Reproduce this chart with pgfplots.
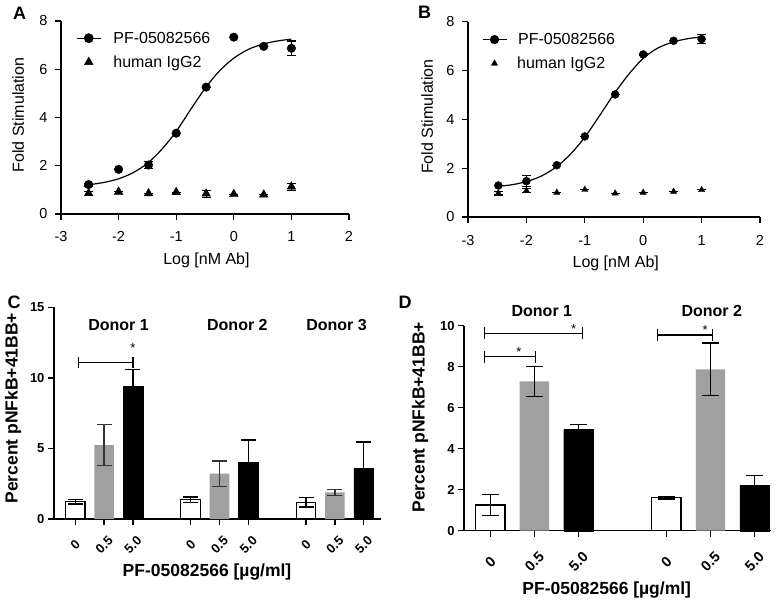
\documentclass[border=0pt]{standalone}
\usepackage{fontspec}
\setmainfont{Liberation Sans}
\usepackage{pgfplots}
\pgfplotsset{compat=1.18}
\definecolor{bargrey}{RGB}{160,160,160}
\newcommand{\fsz}[1]{\fontsize{#1bp}{#1bp}\selectfont}
\pgfplotsset{
  panel/.style={scale only axis, anchor=south west,
    axis x line*=bottom, axis y line*=left,
    axis line style={line width=1.3bp, black},
    tick style={line width=1.3bp, black},
    tick align=outside, major tick length=6bp, clip=false,
    /pgf/number format/assume math mode=true},
  curvepanel/.style={panel,
    xmin=-3, xmax=2, ymin=0, ymax=8,
    xtick={-3,-2,-1,0,1,2}, xticklabels={-3,-2,-1,0,1,2},
    ytick={0,2,4,6,8}, yticklabels={0,2,4,6,8},
    ticklabel style={font=\fsz{14.5}},
    xticklabel style={yshift=-8bp},
    yticklabel style={xshift=-4bp},
    label style={font=\fsz{16}},
    legend style={draw=none, fill=none, inner sep=0pt, font=\fsz{16},
      row sep=7bp, anchor=north west},
    legend cell align=left,
    legend image code/.code={\draw[mark repeat=2,mark phase=2,##1] plot coordinates {(0bp,0bp) (12bp,0bp) (24bp,0bp)};}},
  barpanel/.style={panel,
    ymin=0, ticklabel style={font=\bfseries\fsz{13}},
    xticklabel style={yshift=#1, rotate=45, anchor=center},
    label style={font=\bfseries\fsz{17.5}}},
  ptserr/.style={error bars/.cd, y dir=both, y explicit,
    error bar style={line width=1.2bp, black},
    error mark options={rotate=90, mark size=4.5bp, line width=1.2bp, black}},
}
\begin{document}
\begin{tikzpicture}
\path[use as bounding box] (0,0) rectangle (777bp,600bp);
% ---------------- Panel A
\begin{axis}[curvepanel, at={(61bp,386bp)}, width=288bp, height=193bp,
  xlabel={Log [nM Ab]}, ylabel={Fold Stimulation},
  xlabel style={at={(axis description cs:0.505,-0.238)}, anchor=center},
  ylabel style={at={(axis description cs:-0.149,0.513)}, anchor=center},
  legend style={at={(axis description cs:0.052,0.955)}}]
\addlegendimage{black, line width=1.2bp, mark=*, mark size=4.3bp}
\addlegendentry{\hspace{10bp}PF-05082566}
\addlegendimage{black, only marks, mark=triangle*, mark size=5bp}
\addlegendentry{\hspace{10bp}human IgG2}
\addplot[black, line width=1.2bp, smooth, forget plot] coordinates {
(-2.52,1.21) (-2.25,1.31) (-2,1.46) (-1.75,1.71) (-1.5,2.1) (-1.25,2.68)
(-1,3.42) (-0.75,4.33) (-0.5,5.2) (-0.25,5.93) (0,6.46) (0.25,6.82)
(0.5,7.04) (0.75,7.17) (1,7.25)};
\addplot[black, only marks, mark=*, mark size=4.3bp, forget plot, ptserr] coordinates {
(-2.52,1.22) +- (0,0.06) (-2,1.85) +- (0,0) (-1.48,2.03) +- (0,0.13)
(-1,3.35) +- (0,0) (-0.48,5.26) +- (0,0) (0,7.33) +- (0,0)
(0.52,6.95) +- (0,0) (1,6.87) +- (0,0.3)};
\addplot[black, only marks, mark=triangle*, mark size=5bp, forget plot, ptserr] coordinates {
(-2.52,0.86) +- (0,0.08) (-2,0.92) +- (0,0) (-1.48,0.85) +- (0,0)
(-1,0.9) +- (0,0) (-0.48,0.84) +- (0,0.15) (0,0.82) +- (0,0)
(0.52,0.8) +- (0,0) (1,1.13) +- (0,0.15)};
\end{axis}
% ---------------- Panel B
\begin{axis}[curvepanel, at={(468bp,383bp)}, width=292bp, height=195.3bp,
  xlabel={Log [nM Ab]}, ylabel={Fold Stimulation},
  xticklabel style={yshift=-1bp},
  xlabel style={at={(axis description cs:0.506,-0.236)}, anchor=center},
  ylabel style={at={(axis description cs:-0.14,0.514)}, anchor=center},
  legend style={at={(axis description cs:0.047,0.952)}}]
\addlegendimage{black, line width=1.2bp, mark=*, mark size=4bp}
\addlegendentry{\hspace{9bp}PF-05082566}
\addlegendimage{black, only marks, mark=triangle*, mark size=3.6bp}
\addlegendentry{\hspace{8bp}human IgG2}
\addplot[black, line width=1.2bp, smooth, forget plot] coordinates {
(-2.48,1.26) (-2.25,1.32) (-2,1.45) (-1.75,1.67) (-1.5,2.03) (-1.25,2.56)
(-1,3.27) (-0.75,4.14) (-0.5,5.04) (-0.25,5.84) (0,6.5) (0.25,6.92)
(0.5,7.16) (0.75,7.3) (1,7.38)};
\addplot[black, only marks, mark=*, mark size=4bp, forget plot, ptserr] coordinates {
(-2.48,1.29) +- (0,0) (-2,1.47) +- (0,0.22) (-1.48,2.12) +- (0,0)
(-1,3.3) +- (0,0) (-0.48,5.02) +- (0,0) (0,6.66) +- (0,0.05)
(0.52,7.22) +- (0,0) (1,7.29) +- (0,0.18)};
\addplot[black, only marks, mark=triangle*, mark size=3.6bp, forget plot, ptserr] coordinates {
(-2.48,0.98) +- (0,0.08) (-2,1.08) +- (0,0.08) (-1.48,1.0) +- (0,0)
(-1,1.12) +- (0,0) (-0.48,0.97) +- (0,0) (0,1.0) +- (0,0)
(0.52,1.04) +- (0,0) (1,1.11) +- (0,0)};
\end{axis}
% ---------------- Panel C
\begin{axis}[barpanel=-20bp, at={(54bp,81bp)}, width=327bp, height=211.7bp,
  xmin=-0.738, xmax=10.6, ymax=15,
  xtick={0,1,2,4,5,6,8,9,10},
  xticklabels={0,0.5,5.0,0,0.5,5.0,0,0.5,5.0},
  ytick={0,5,10,15}, yticklabels={0,5,10,15},
  xlabel={PF-05082566 [µg/ml]}, ylabel={Percent pNFkB+41BB+},
  xlabel style={at={(axis description cs:0.468,-0.249)}, anchor=center},
  ylabel style={at={(axis description cs:-0.125,0.523)}, anchor=center}]
\addplot[ybar, bar width=0.68, bar shift=0pt, fill=white, draw=black, line width=1.3bp,
  error bars/.cd, y dir=both, y explicit, error bar style={line width=1.3bp, black},
  error mark options={rotate=90, mark size=7.5bp, line width=1.3bp, black}]
  coordinates {(0,1.23) +- (0,0.17) (4,1.37) +- (0,0.19) (8,1.18) +- (0,0.32)};
\addplot[ybar, bar width=0.68, bar shift=0pt, fill=bargrey, draw=none,
  error bars/.cd, y dir=both, y explicit, error bar style={line width=1.3bp, black!80},
  error mark options={rotate=90, mark size=7.5bp, line width=1.3bp, black!80}]
  coordinates {(1,5.24) +- (0,1.46) (5,3.22) +- (0,0.9) (9,1.88) +- (0,0.2)};
\addplot[ybar, bar width=0.68, bar shift=0pt, fill=black, draw=black,
  error bars/.cd, y dir=both, y explicit, error bar style={line width=1.3bp, black},
  error mark options={rotate=90, mark size=7.5bp, line width=1.3bp, black}]
  coordinates {(2,9.38) +- (0,1.2) (6,4.02) +- (0,1.58) (10,3.61) +- (0,1.85)};
\draw[line width=1.2bp] (axis cs:0.1,11.1) -- (axis cs:2,11.1);
\draw[line width=1.2bp] (axis cs:0.1,11.1) ++(0pt,-5.5pt) -- ++(0pt,11pt);
\draw[line width=1.2bp] (axis cs:2,11.1) ++(0pt,-5.5pt) -- ++(0pt,11pt);
\node[font=\fsz{13}] at (axis cs:2,12.1) {*};
\node[font=\bfseries\fsz{16}] at (axis cs:1.5,13.75) {Donor 1};
\node[font=\bfseries\fsz{16}] at (axis cs:5.62,13.75) {Donor 2};
\node[font=\bfseries\fsz{16}] at (axis cs:9.06,13.75) {Donor 3};
\end{axis}
% ---------------- Panel D
\begin{axis}[barpanel=-25bp, at={(464bp,69.3bp)}, width=307bp, height=205bp,
  xmin=-0.598, xmax=6.375, ymax=10,
  xtick={0,1,2,4,5,6},
  xticklabels={0,0.5,5.0,0,0.5,5.0},
  ytick={0,2,4,6,8,10}, yticklabels={0,2,4,6,8,10},
  xticklabel style={font=\bfseries\fsz{14.5}},
  xlabel={PF-05082566 [µg/ml]}, ylabel={Percent pNFkB+41BB+},
  xlabel style={at={(axis description cs:0.465,-0.289)}, anchor=center},
  ylabel style={at={(axis description cs:-0.143,0.553)}, anchor=center}]
\addplot[ybar, bar width=0.667, bar shift=0pt, fill=white, draw=black, line width=1.3bp,
  error bars/.cd, y dir=both, y explicit, error bar style={line width=1.3bp, black},
  error mark options={rotate=90, mark size=8.5bp, line width=1.3bp, black}]
  coordinates {(0,1.25) +- (0,0.52) (4,1.61) +- (0,0.06)};
\addplot[ybar, bar width=0.667, bar shift=0pt, fill=bargrey, draw=none,
  error bars/.cd, y dir=both, y explicit, error bar style={line width=1.3bp, black},
  error mark options={rotate=90, mark size=8.5bp, line width=1.3bp, black}]
  coordinates {(1,7.29) +- (0,0.73) (5,7.87) +- (0,1.28)};
\addplot[ybar, bar width=0.667, bar shift=0pt, fill=black, draw=black,
  error bars/.cd, y dir=both, y explicit, error bar style={line width=1.3bp, black},
  error mark options={rotate=90, mark size=8.5bp, line width=1.3bp, black}]
  coordinates {(2,4.93) +- (0,0.24) (6,2.21) +- (0,0.47)};
\draw[line width=1.2bp] (axis cs:-0.14,9.63) -- (axis cs:2.09,9.63);
\draw[line width=1.2bp] (axis cs:-0.14,9.63) ++(0pt,-6pt) -- ++(0pt,12pt);
\draw[line width=1.2bp] (axis cs:2.09,9.63) ++(0pt,-6pt) -- ++(0pt,12pt);
\draw[line width=1.2bp] (axis cs:-0.14,8.49) -- (axis cs:1.02,8.49);
\draw[line width=1.2bp] (axis cs:-0.14,8.49) ++(0pt,-6pt) -- ++(0pt,12pt);
\draw[line width=1.2bp] (axis cs:1.02,8.49) ++(0pt,-6pt) -- ++(0pt,12pt);
\draw[line width=1.2bp] (axis cs:3.8,9.55) -- (axis cs:5.05,9.55);
\draw[line width=1.2bp] (axis cs:3.8,9.55) ++(0pt,-6pt) -- ++(0pt,12pt);
\draw[line width=1.2bp] (axis cs:5.05,9.55) ++(0pt,-6pt) -- ++(0pt,12pt);
\node[font=\fsz{13}] at (axis cs:1.89,9.85) {*};
\node[font=\fsz{13}] at (axis cs:0.65,8.72) {*};
\node[font=\fsz{13}] at (axis cs:4.88,9.78) {*};
\node[font=\bfseries\fsz{16}] at (axis cs:1.17,10.73) {Donor 1};
\node[font=\bfseries\fsz{16}] at (axis cs:5.03,10.73) {Donor 2};
\end{axis}
% ---------------- Panel letters
\node[font=\bfseries\fsz{18}] at (19.5bp,587bp) {A};
\node[font=\bfseries\fsz{18}] at (424.5bp,588bp) {B};
\node[font=\bfseries\fsz{18}] at (14bp,298bp) {C};
\node[font=\bfseries\fsz{18}] at (405bp,298bp) {D};
\end{tikzpicture}
\end{document}
